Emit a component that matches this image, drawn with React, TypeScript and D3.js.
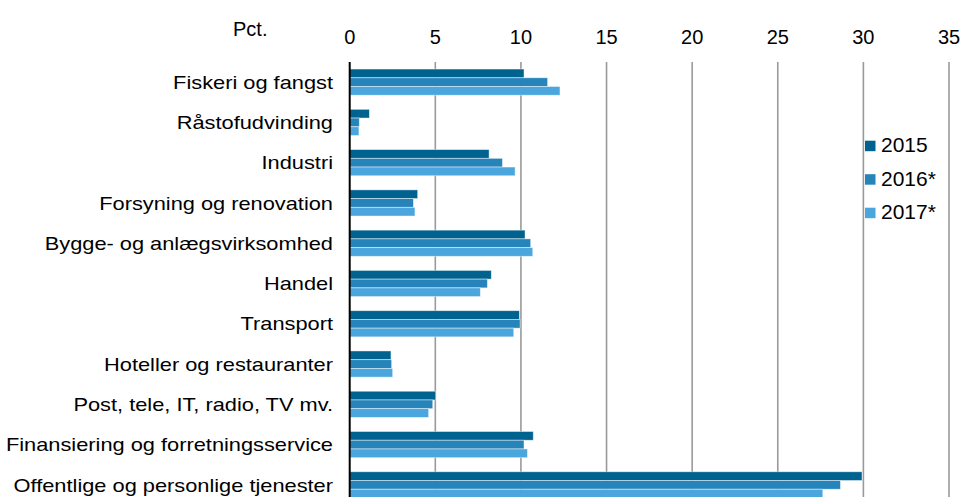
import React from "react";
import * as d3 from "d3";

const categories = [
  "Fiskeri og fangst",
  "Råstofudvinding",
  "Industri",
  "Forsyning og renovation",
  "Bygge- og anlægsvirksomhed",
  "Handel",
  "Transport",
  "Hoteller og restauranter",
  "Post, tele, IT, radio, TV mv.",
  "Finansiering og forretningsservice",
  "Offentlige og personlige tjenester",
];
const seriesNames = ["2015", "2016*", "2017*"];
const values2015 = [10.18, 1.15, 8.14, 3.97, 10.24, 8.27, 9.91, 2.41, 5.02, 10.72, 29.92];
const values2016 = [11.56, 0.56, 8.92, 3.72, 10.57, 8.04, 9.95, 2.45, 4.85, 10.18, 28.66];
const values2017 = [12.28, 0.54, 9.66, 3.81, 10.69, 7.63, 9.58, 2.51, 4.61, 10.38, 27.63];
const xTicks = [0, 5, 10, 15, 20, 25, 30, 35];
const unitLabel = "Pct.";

const colors = ["#00628f", "#2684ba", "#4aa6dc"];
const FONT = "'Liberation Sans', Arial, Helvetica, sans-serif";

export default function App() {
  const W = 964, H = 497;
  const x = d3.scaleLinear().domain([0, 35]).range([349.7, 949]);
  const y = d3.scaleBand<string>().domain(categories).range([62, 505]).paddingInner(0.35).paddingOuter(0.175);
  const inner = d3.scaleBand<string>().domain(seriesNames).range([0, y.bandwidth()]);
  const series = [values2015, values2016, values2017];

  return (
    <svg width={W} height={H} style={{ position: "absolute", left: 0, top: 0, background: "#fff" }} fontFamily={FONT}>
      <rect x={0} y={0} width={W} height={H} fill="#fff" />
      {xTicks.filter((t) => t > 0).map((t) => (
        <line key={"g" + t} x1={x(t)} x2={x(t)} y1={62} y2={H} stroke="#9a9a9a" strokeWidth={1.6} />
      ))}
      {xTicks.map((t) => (
        <text key={"t" + t} x={x(t)} y={44} fontSize={20} textAnchor="middle" fill="#000">
          {t}
        </text>
      ))}
      <text x={233} y={36} fontSize={20} fill="#000">{unitLabel}</text>
      {categories.map((c, i) => (
        <g key={c}>
          {series.map((vals, s) => (
            <rect
              key={s}
              x={x(0)}
              y={(y(c) as number) + (inner(seriesNames[s]) as number)}
              width={x(vals[i]) - x(0)}
              height={inner.bandwidth()}
              fill={colors[s]}
              stroke="rgba(255,255,255,0.55)"
              strokeWidth={0.8}
            />
          ))}
          <text
            transform={`translate(333, ${(y(c) as number) + y.bandwidth() / 2 + 6.7}) scale(1.16, 1)`}
            fontSize={18.8}
            textAnchor="end"
            fill="#000"
          >
            {c}
          </text>
        </g>
      ))}
      <line x1={x(0)} x2={x(0)} y1={62} y2={H} stroke="#000" strokeWidth={2} />
      {seriesNames.map((s, i) => (
        <g key={s} transform={`translate(865, ${140.7 + i * 33.5})`}>
          <rect x={0} y={0} width={10.5} height={10.5} fill={colors[i]} />
          <text transform="translate(16, 11.6) scale(1.05, 1)" fontSize={20} fill="#000">
            {s}
          </text>
        </g>
      ))}
    </svg>
  );
}
